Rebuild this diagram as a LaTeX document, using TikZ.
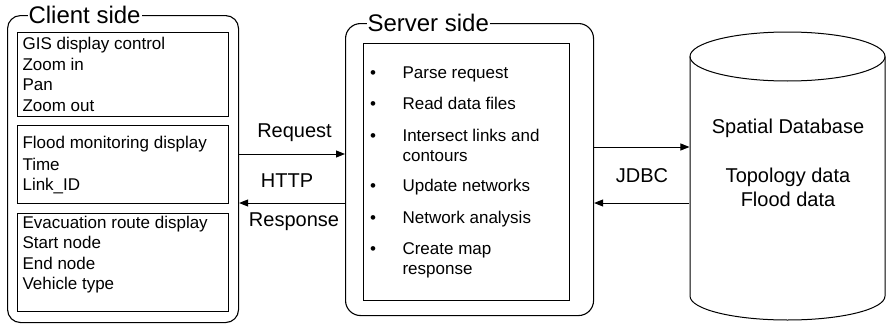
\documentclass[tikz,border=0pt]{standalone}
\usepackage{fontspec}
\setmainfont{Liberation Sans}
\usetikzlibrary{arrows.meta}
\begin{document}
\begin{tikzpicture}[x=1pt,y=1pt, line width=1.1pt,
  itemtxt/.style={font=\fontsize{17}{20.7}\selectfont, inner sep=0, anchor=base west},
  bul/.style={font=\fontsize{17}{20.7}\selectfont, inner sep=0, anchor=base},
  lbl/.style={font=\fontsize{20}{24}\selectfont, inner sep=0, anchor=base},
  ttl/.style={font=\fontsize{24}{28}\selectfont, inner sep=1pt, fill=white, anchor=west},
  outer/.style={draw, rounded corners=13pt, anchor=north west, inner sep=0},
  box/.style={draw, anchor=north west, inner sep=0, minimum width=211},
  arr/.style={-{Triangle[length=9pt,width=7pt]}, line width=1pt}]
\useasboundingbox (0,0) rectangle (886,-324);

% Client side
\node[outer, minimum width=231, minimum height=307] (client) at (7,-15) {};
\node[ttl] (ctitle) at (27,-15) {Client side};
\node[box, minimum height=84] (g1) at (17,-32) {};
\node[box, minimum height=78] (g2) at (17,-125) {};
\node[box, minimum height=98] (g3) at (17,-213) {};
\node[itemtxt] (c11) at (22,-49) {GIS display control};
\node[itemtxt] (c12) at (22,-70) {Zoom in};
\node[itemtxt] (c13) at (22,-90) {Pan};
\node[itemtxt] (c14) at (22,-111) {Zoom out};
\node[itemtxt] (c21) at (22,-148) {Flood monitoring display};
\node[itemtxt] (c22) at (22,-170) {Time};
\node[itemtxt] (c23) at (22,-190) {Link\_ID};
\node[itemtxt] (c31) at (22,-228) {Evacuation route display};
\node[itemtxt] (c32) at (22,-248) {Start node};
\node[itemtxt] (c33) at (22,-269) {End node};
\node[itemtxt] (c34) at (22,-289) {Vehicle type};

% Server side
\node[outer, rounded corners=15pt, minimum width=248, minimum height=292] (server) at (345,-23) {};
\node[ttl] (stitle) at (366,-23) {Server side};
\node[draw, anchor=north west, inner sep=0, minimum width=206, minimum height=257] (sin) at (363,-43) {};
\node[bul] (b1) at (373,-78) {•};
\node[bul] (b2) at (373,-109) {•};
\node[bul] (b3) at (373,-141) {•};
\node[bul] (b4) at (373,-191) {•};
\node[bul] (b5) at (373,-223) {•};
\node[bul] (b6) at (373,-254) {•};
\node[itemtxt] (s1) at (402,-78) {Parse request};
\node[itemtxt] (s2) at (402,-109) {Read data files};
\node[itemtxt] (s3) at (402,-141) {Intersect links and};
\node[itemtxt] (s3b) at (402,-161) {contours};
\node[itemtxt] (s4) at (402,-191) {Update networks};
\node[itemtxt] (s5) at (402,-223) {Network analysis};
\node[itemtxt] (s6) at (402,-254) {Create map};
\node[itemtxt] (s6b) at (402,-274) {response};

% Database
\node[minimum width=195, minimum height=288, inner sep=0] (db) at (787.5,-176) {};
\draw[line width=1pt] (690,-56.5) -- (690,-296) arc[start angle=180, end angle=360, x radius=97.5, y radius=24] -- (885,-56.5);
\draw[line width=1pt] (787.5,-56.5) ellipse[x radius=97.5, y radius=24.5];
\node[lbl] (d1) at (788,-133) {Spatial Database};
\node[lbl] (d2) at (788,-182) {Topology data};
\node[lbl] (d3) at (788,-206) {Flood data};

% Arrows
\draw[arr] (client.east |- 0,-154) -- (server.west |- 0,-154);
\draw[arr] (server.west |- 0,-203) -- (client.east |- 0,-203);
\draw[arr] (server.east |- 0,-147) -- (db.west |- 0,-147);
\draw[arr] (db.west |- 0,-203) -- (server.east |- 0,-203);
\node[lbl] (lreq) at (294.5,-137) {Request};
\node[lbl] (lhttp) at (287,-187) {HTTP};
\node[lbl] (lresp) at (294,-226) {Response};
\node[lbl] (ljdbc) at (642,-182) {JDBC};
\end{tikzpicture}
\end{document}
